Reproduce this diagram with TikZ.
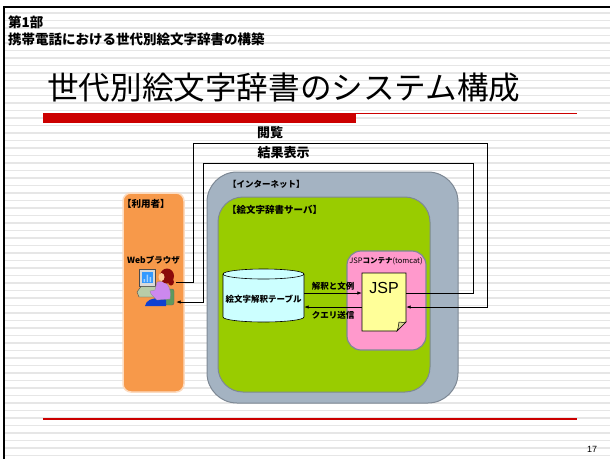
\documentclass[tikz,border=0pt]{standalone}
\usepackage{fontspec}
\setmainfont{Noto Sans CJK JP}
\newfontfamily\arialfont{Liberation Sans}
\usetikzlibrary{arrows.meta}

\definecolor{stripegray}{HTML}{E6E6E6}
\definecolor{slidered}{HTML}{CC0000}
\definecolor{userorange}{HTML}{F7994A}
\definecolor{netgray}{HTML}{A4B3C2}
\definecolor{netedge}{HTML}{7D8894}
\definecolor{servgreen}{HTML}{99CC00}
\definecolor{contpink}{HTML}{FF99CC}
\definecolor{docyellow}{HTML}{FFFF99}
\definecolor{dogear}{HTML}{D8D890}
\definecolor{tablecyan}{HTML}{CCFFFF}
\definecolor{screenblue}{HTML}{3399FF}
\definecolor{kbgreen}{HTML}{B8CCA8}
\definecolor{chairgreen}{HTML}{5E9A5E}
\definecolor{shirtviolet}{HTML}{CC88EE}
\definecolor{skirtblue}{HTML}{1040D0}
\definecolor{hairred}{HTML}{8B0A0A}
\definecolor{skin}{HTML}{FFCC99}

\begin{document}
\begin{tikzpicture}
    [
        x=1pt, y=-1pt,
        >={Latex[length=4.5pt,width=3.5pt]},
        area/.style={
                rounded corners=#1,
                inner sep=0pt,
                line width=1pt,
                draw=netedge,
            },
        tag/.style={
                font=\fontsize{8.5}{10}\selectfont\bfseries,
                inner sep=0pt,
                anchor=west,
            },
        caption/.style={
                font=\fontsize{13}{15}\selectfont\bfseries,
                inner sep=0pt,
            },
        msg/.style={line width=0.7pt},
        outline/.style={line width=0.6pt, draw=black},
    ]

    \useasboundingbox (0,0) rectangle (610,459);

    % striped slide background, black edge on top and left
    \foreach \k in {0,...,59}
        \fill [stripegray] (4,12+7.5*\k) rectangle ++(606,1.8);
    \fill [black] (2.5,5.5) rectangle (610,7.5);
    \fill [black] (2.5,5.5) rectangle (4.5,459);

    % heading
    \node [tag, font=\fontsize{13.5}{15}\selectfont\bfseries] (part) at (8,22) {第1部};
    \node [tag, font=\fontsize{13.5}{15}\selectfont\bfseries] (subject) at (8,39) {携帯電話における世代別絵文字辞書の構築};
    \node [tag, font=\fontsize{31.6}{35}\selectfont] (title) at (47,87.5) {世代別絵文字辞書のシステム構成};
    \fill [slidered] (43,113) rectangle (356,122.5);
    \draw [slidered, line width=1.2pt] (356,113.6) -- (577,113.6);
    \draw [slidered, line width=1.2pt] (43,419) -- (577,419);
    \node [font={\arialfont\fontsize{9}{10}\selectfont}, inner sep=0pt] (pageno) at (592,449) {17};

    % areas
    \node [area=8pt, fill=userorange, draw=white!65!userorange, line width=1.5pt,
           minimum width=61pt, minimum height=199pt] (user) at (153.5,292.5) {};
    \node [area=30pt, fill=netgray, minimum width=251pt, minimum height=231pt] (internet) at (332.5,287.5) {};
    \node [area=25pt, fill=servgreen, minimum width=212pt, minimum height=195pt] (server) at (324,294.5) {};
    \node [area=14pt, fill=contpink, line width=1.2pt, minimum width=79pt, minimum height=99pt] (container) at (386.5,300.5) {};

    \node [tag, font=\fontsize{9.5}{11}\selectfont\bfseries] (userlabel) at (122,203.5) {【利用者】};
    \node [tag] (browserlabel) at (127,260) {Webブラウザ};
    \node [tag] (netlabel) at (228,184) {【インターネット】};
    \node [tag, font=\fontsize{9.5}{11}\selectfont\bfseries] (serverlabel) at (227,210) {【絵文字辞書サーバ】};
    \node [tag, anchor=center, font=\fontsize{7.5}{9}\selectfont] (containerlabel) at (386,261.5) {JSP{\bfseries コンテナ}(tomcat)};

    % database table
    \filldraw [outline, fill=tablecyan] (223,274) -- (223,317)
        arc [start angle=180, end angle=360, x radius=40.5pt, y radius=5pt] -- (304,274)
        arc [start angle=0, end angle=180, x radius=40.5pt, y radius=5pt] -- cycle;
    \draw [outline] (223,274) arc [start angle=180, end angle=360, x radius=40.5pt, y radius=5pt];
    \node [tag, anchor=center, minimum width=81pt] (table) at (263.5,299) {絵文字解釈テーブル};

    % JSP page with folded corner
    \filldraw [outline, fill=docyellow] (362,273) -- (406,273) -- (406,322) -- (397,331) -- (362,331) -- cycle;
    \filldraw [outline, line width=0.5pt, fill=dogear] (397,331) .. controls (399,327) and (398,324) .. (399,322) .. controls (402,323) and (404,322) .. (406,322) -- cycle;
    \node [inner sep=0pt, minimum width=44pt, minimum height=58pt] (jsp) at (384,302) {};
    \node [font={\arialfont\fontsize{16}{18}\selectfont}, inner sep=0pt] (jsptext) at ([yshift=-15.5pt]jsp.north) {JSP};

    % woman at a computer
    \node [inner sep=0pt, minimum width=39pt, minimum height=40pt] (pc) at (156.5,287) {};
    \filldraw [fill=gray!30, draw=gray!60!black, line width=0.4pt] (139,269) rectangle (155,286);
    \fill [screenblue] (141.5,271.5) rectangle (152.5,283);
    \fill [white!55!screenblue] (143.5,279) rectangle (145,282) (146.5,274.5) rectangle (148,282) (149.5,277) rectangle (151,282);
    \filldraw [fill=kbgreen, draw=gray!60!black, line width=0.4pt] (137,292) -- (141,286.5) -- (157,286.5) -- (161,291) -- (159,297) -- (139,297) -- cycle;
    \filldraw [fill=chairgreen, draw=black!60, line width=0.4pt, rounded corners=2pt] (165,289) rectangle (174,305);
    \fill [skirtblue] (145,306) .. controls (146,300) and (152,298) .. (160,298) -- (166,299) -- (166,306) -- cycle;
    \filldraw [fill=shirtviolet, draw=black!45, line width=0.3pt] (157,282) .. controls (166,279) and (172,287) .. (170,299)
        -- (157,300) .. controls (154,297) and (150,294) .. (150,291) -- (155,290) -- cycle;
    \fill [hairred] (167,276) ellipse [x radius=7pt, y radius=7.5pt];
    \fill [hairred] (171,282) ellipse [x radius=3pt, y radius=3.5pt];
    \fill [skin] (161.5,277) ellipse [x radius=3pt, y radius=4pt];

    % browsing request
    \node [caption] (browselabel) at (270,133) {閲覧};
    \draw [msg, ->] ([yshift=5pt]pc.east) -| (193,143) -- (487,143) |- ([yshift=-5pt]jsp.east);

    % result display
    \node [caption] (resultlabel) at (283.5,153) {結果表示};
    \draw [msg, ->] ([yshift=9pt]jsp.east) -- ++(67,0) |- (203,163) |- ([yshift=-15pt]pc.east);

    % lookup between JSP and the table
    \draw [msg, ->] ([yshift=6pt]table.east) -- ([yshift=9pt]jsp.west)
        node [midway, above=2pt, tag, anchor=south] (answerlabel) {解釈と文例};
    \draw [msg, ->] ([yshift=-5pt]jsp.west) -- ([yshift=-8pt]table.east)
        node [midway, below=4pt, tag, anchor=north] (querylabel) {クエリ送信};
\end{tikzpicture}
\end{document}
